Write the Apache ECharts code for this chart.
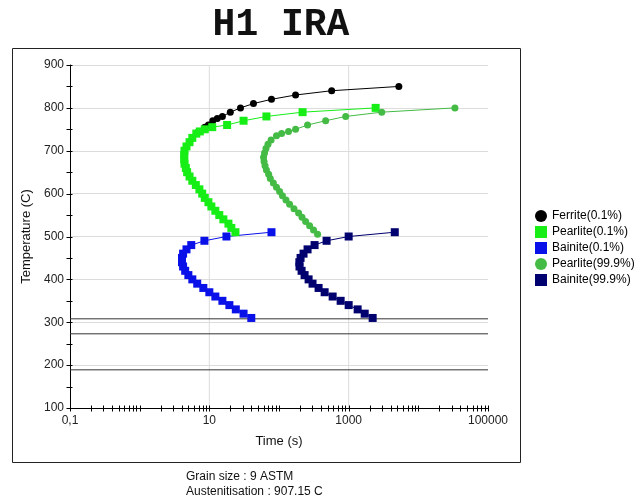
<!DOCTYPE html>
<html><head><meta charset="utf-8">
<script src="https://cdn.jsdelivr.net/npm/echarts@6/dist/echarts.min.js"></script>
<style>html,body{margin:0;padding:0;background:#fff;}#c{width:643px;height:503px;}</style>
</head><body><div id="c"></div>
<script>
// ---------- data ----------
const titleText = 'H1 IRA';
const xName = 'Time (s)';
const yName = 'Temperature (C)';
const infoLines = ['Grain size : 9 ASTM', 'Austenitisation : 907.15 C'];
const seriesNames = ['Ferrite(0.1%)', 'Pearlite(0.1%)', 'Bainite(0.1%)', 'Pearlite(99.9%)', 'Bainite(99.9%)'];

const ferriteTemp = [745, 755, 760, 770, 775, 780, 790, 800, 810, 820, 830, 840, 850];
const ferriteTime = [7.0, 8.6, 9.7, 11.2, 13.0, 15.4, 20, 28, 43, 78, 173, 570, 5250];

const pearlite1Temp = [510, 520, 530, 540, 550, 560, 570, 580, 590, 600, 610, 620, 630, 640, 650, 660, 670, 680, 690, 700, 710, 720, 730, 740, 745, 750, 755, 760, 770, 780, 790, 800];
const pearlite1Time = [23.7, 20.7, 18.8, 15.9, 13.9, 12.2, 10.7, 9.7, 8.6, 7.9, 7.2, 6.4, 5.7, 5.2, 4.8, 4.6, 4.4, 4.36, 4.36, 4.4, 4.7, 5.2, 5.7, 6.5, 7.3, 8.6, 11, 18, 31, 66, 218, 2440];

const bainite1Temp = [310, 320, 330, 340, 350, 360, 370, 380, 390, 400, 410, 420, 430, 440, 450, 460, 470, 480, 490, 500, 510];
const bainite1Time = [40, 31, 24, 19.4, 15.4, 12.2, 10, 8.2, 6.7, 5.7, 5.0, 4.5, 4.2, 4.05, 4.05, 4.2, 4.7, 5.5, 8.5, 17.6, 78];

const pearlite99Temp = [505, 515, 525, 535, 545, 555, 565, 575, 585, 595, 605, 615, 625, 635, 645, 655, 665, 675, 685, 695, 705, 715, 725, 735, 740, 745, 750, 760, 770, 780, 790, 800];
const pearlite99Time = [358, 313, 275, 241, 214, 191, 164, 142, 126, 112, 102, 92, 83, 75, 71, 66, 63, 61, 60, 62, 65, 69.5, 77, 92, 109, 137, 173, 257, 467, 906, 2985, 33500];

const bainite99Temp = [310, 320, 330, 340, 350, 360, 370, 380, 390, 400, 410, 420, 430, 440, 450, 460, 470, 480, 490, 500, 510];
const bainite99Time = [2210, 1700, 1345, 1000, 767, 589, 452, 370, 303, 266, 233, 211, 197, 196, 204, 225, 257, 324, 482, 1000, 4590];

const martensiteLines = [308, 273, 189];
const xLabelExps = [-1, 1, 3, 5];
const xTickLabels = ['0,1', '10', '1000', '100000'];
const xGridLines = [10, 1000];
const xMin = 0.1, xMax = 100000;
const yMin = 100, yMax = 900, yStep = 100;

// ---------- chart ----------
const colors = ['#000000', '#16ee16', '#0a10e8', '#44bb44', '#00006e'];
const symbols = ['circle', 'rect', 'rect', 'circle', 'rect'];
const sizes = [7, 8, 8, 7, 8];
const temps = [ferriteTemp, pearlite1Temp, bainite1Temp, pearlite99Temp, bainite99Temp];
const times = [ferriteTime, pearlite1Time, bainite1Time, pearlite99Time, bainite99Time];

// axis tick marks (positions on the log/linear axes)
const tickData = [];
for (let d = -1; d <= 4; d++) {
  for (let k = 1; k <= 9; k++) tickData.push([k * Math.pow(10, d), yMin, 0]);
}
tickData.push([xMax, yMin, 0]);
for (let v = yMin; v <= yMax; v += yStep / 2) tickData.push([xMin, v, 1]);

const FONT = 'Liberation Sans, Arial, sans-serif';

const series = [];
// background reference lines (vertical grid + martensite lines)
xGridLines.forEach(v => series.push({
  type: 'line', silent: true, z: 1, symbol: 'none',
  data: [[v, yMin], [v, yMax]],
  lineStyle: { color: '#dcdcdc', width: 1 }
}));
martensiteLines.forEach(v => series.push({
  type: 'line', silent: true, z: 1, symbol: 'none',
  data: [[xMin, v], [xMax, v]],
  lineStyle: { color: '#333', width: 1 }
}));
series.push({
  type: 'custom', clip: false, silent: true, z: 2,
  data: tickData,
  renderItem: function (params, api) {
    const kind = api.value(2);
    const p = api.coord([api.value(0), api.value(1)]);
    const x = Math.round(p[0]) + 0.5, y = Math.round(p[1]) + 0.5;
    if (kind === 0) {
      return { type: 'line', shape: { x1: x, y1: y - 3, x2: x, y2: y + 3 }, style: { stroke: '#000', lineWidth: 1 } };
    }
    return { type: 'line', shape: { x1: x - 4, y1: y, x2: x + 2, y2: y }, style: { stroke: '#000', lineWidth: 1 } };
  }
});
seriesNames.forEach((name, i) => series.push({
  name: name,
  type: 'line',
  data: times[i].map((t, j) => [t, temps[i][j]]),
  symbol: symbols[i],
  symbolSize: sizes[i],
  showAllSymbol: true,
  color: colors[i],
  itemStyle: { color: colors[i] },
  lineStyle: { color: colors[i], width: 1 },
  emphasis: { disabled: true },
  z: 5
}));

const chart = echarts.init(document.getElementById('c'), null, { renderer: 'canvas' });
chart.setOption({
  animation: false,
  backgroundColor: '#fff',
  grid: { left: 70, right: 155, top: 65, bottom: 95, containLabel: false },
  xAxis: {
    type: 'log', logBase: 10, min: xMin, max: xMax,
    name: xName, nameLocation: 'middle', nameGap: 27,
    nameTextStyle: { fontFamily: FONT, fontSize: 13, color: '#111' },
    axisLine: { show: true, lineStyle: { color: '#000', width: 1 } },
    axisTick: { show: false },
    splitLine: { show: false },
    axisLabel: {
      margin: 7, fontFamily: FONT, fontSize: 12, color: '#222',
      formatter: function (v) {
        const e = Math.round(Math.log10(v));
        const idx = xLabelExps.indexOf(e);
        return idx >= 0 ? xTickLabels[idx] : '';
      }
    }
  },
  yAxis: {
    type: 'value', min: yMin, max: yMax, interval: yStep,
    name: yName, nameLocation: 'middle', nameGap: 33, nameRotate: 90,
    nameTextStyle: { fontFamily: FONT, fontSize: 13, color: '#111' },
    axisLine: { show: true, lineStyle: { color: '#000', width: 1 } },
    axisTick: { show: false },
    axisLabel: { margin: 6, fontFamily: FONT, fontSize: 12, color: '#222' },
    splitLine: { show: true, lineStyle: { color: '#dcdcdc', width: 1 } }
  },
  legend: {
    orient: 'vertical', left: 530, top: 205,
    itemWidth: 12, itemHeight: 12, itemGap: 4,
    textStyle: { fontFamily: FONT, fontSize: 12, color: '#000' },
    data: seriesNames.map((n, i) => ({ name: n, icon: symbols[i] }))
  },
  graphic: [
    { type: 'rect', shape: { x: 12.5, y: 48.5, width: 508, height: 414 }, style: { fill: 'none', stroke: '#222', lineWidth: 1 }, silent: true, z: 0 },
    { type: 'text', style: { text: titleText, x: 281, y: 25, textAlign: 'center', textVerticalAlign: 'middle', font: 'bold 38px "Liberation Mono", "Courier New", monospace', fill: '#111' } },
    { type: 'text', style: { text: infoLines[0], x: 186, y: 477, textVerticalAlign: 'middle', font: '12px ' + FONT, fill: '#111' } },
    { type: 'text', style: { text: infoLines[1], x: 186, y: 492, textVerticalAlign: 'middle', font: '12px ' + FONT, fill: '#111' } }
  ],
  series: series
});
</script>
</body></html>
